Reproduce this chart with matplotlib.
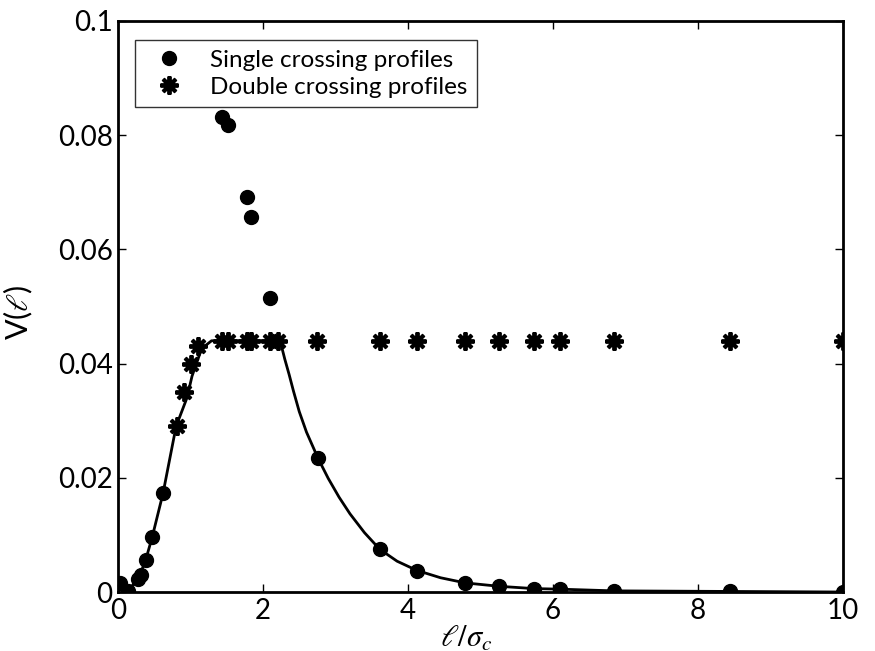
import numpy as np
import matplotlib
matplotlib.use('Agg')
import matplotlib.pyplot as plt

plt.rcParams['font.family'] = ['Lato', 'DejaVu Sans']
plt.rcParams['mathtext.fontset'] = 'stix'

# single crossing profiles (circles)
single_x = [0.03, 0.14, 0.28, 0.31, 0.38, 0.47, 0.62,
            1.43, 1.52, 1.775, 1.84, 2.10,
            2.76, 3.61, 4.12, 4.79, 5.26, 5.74, 6.10, 6.85, 8.44, 10.0]
single_y = [0.0016, 0.0001, 0.0022, 0.0030, 0.0056, 0.0096, 0.0173,
            0.0832, 0.0818, 0.0692, 0.0656, 0.0514,
            0.0235, 0.0075, 0.0037, 0.0016, 0.0010, 0.0006, 0.0005, 0.0002, 0.0001, 0.0]

# double crossing profiles (asterisks)
double_x = [0.81, 0.91, 1.01, 1.10, 1.43, 1.52, 1.78, 1.84, 2.10, 2.21,
            2.75, 3.62, 4.12, 4.79, 5.26, 5.74, 6.10, 6.85, 8.44, 10.0]
double_y = [0.029, 0.0351, 0.040, 0.0431, 0.044, 0.044, 0.044, 0.044, 0.044, 0.044,
            0.044, 0.044, 0.044, 0.044, 0.044, 0.044, 0.044, 0.044, 0.044, 0.044]

# fitted curve
curve_x = [0.0, 0.14, 0.30, 0.38, 0.47, 0.62, 0.80, 0.95, 1.02, 1.13, 1.22, 1.29,
           2.23, 2.26, 2.30, 2.36, 2.42, 2.50, 2.60, 2.76, 2.90, 3.05, 3.20, 3.40,
           3.61, 3.85, 4.12, 4.45, 4.79, 5.26, 5.74, 6.10, 6.85, 8.44, 10.0]
curve_y = [0.0016, 0.0001, 0.0030, 0.0056, 0.0096, 0.0173, 0.0290, 0.0340, 0.0378,
           0.0418, 0.0433, 0.0440, 0.0440, 0.0428, 0.0408, 0.0381, 0.0352, 0.0316,
           0.0280, 0.0234, 0.0199, 0.0166, 0.0137, 0.0104, 0.0075, 0.0054, 0.0038,
           0.0025, 0.0016, 0.0010, 0.0006, 0.0005, 0.0002, 0.0001, 0.0]

fig = plt.figure(figsize=(8.75, 6.51), dpi=100)
ax = fig.add_axes([0.135, 0.0906, 0.828, 0.8772])

ax.plot(curve_x, curve_y, '-', color='black', lw=2, zorder=2)
ax.plot(single_x, single_y, 'o', color='black', markersize=10, ls='none',
        label='Single crossing profiles', zorder=3)
ax.plot(double_x, double_y, marker=(8, 2, 0), color='black', markersize=13,
        markeredgewidth=2.8, ls='none', label='Double crossing profiles', zorder=3)

ax.set_xlim(0, 10)
ax.set_ylim(0, 0.1)
ax.set_xticks([0, 2, 4, 6, 8, 10])
ax.set_xticklabels(['0', '2', '4', '6', '8', '10'])
ax.set_yticks([0, 0.02, 0.04, 0.06, 0.08, 0.1])
ax.set_yticklabels(['0', '0.02', '0.04', '0.06', '0.08', '0.1'])
ax.tick_params(direction='in', top=True, right=True, length=6, width=1,
               labelsize=20, pad=4)
for s in ax.spines.values():
    s.set_linewidth(2)

ax.set_xlabel(r'$\ell/\sigma_c$', fontsize=22)
ax.xaxis.set_label_coords(0.48, -0.055)
ax.set_ylabel(r'V($\ell$)', fontsize=22)
ax.yaxis.set_label_coords(-0.115, 0.49)

leg = ax.legend(loc='upper left', fontsize=17.5, frameon=True, fancybox=False,
                edgecolor='black', borderpad=0.4, handletextpad=0.7,
                labelspacing=0.25, handlelength=2.0, borderaxespad=0,
                bbox_to_anchor=(0.023, 0.967))
leg.get_frame().set_linewidth(1)

fig.savefig('out.png', dpi=100)
